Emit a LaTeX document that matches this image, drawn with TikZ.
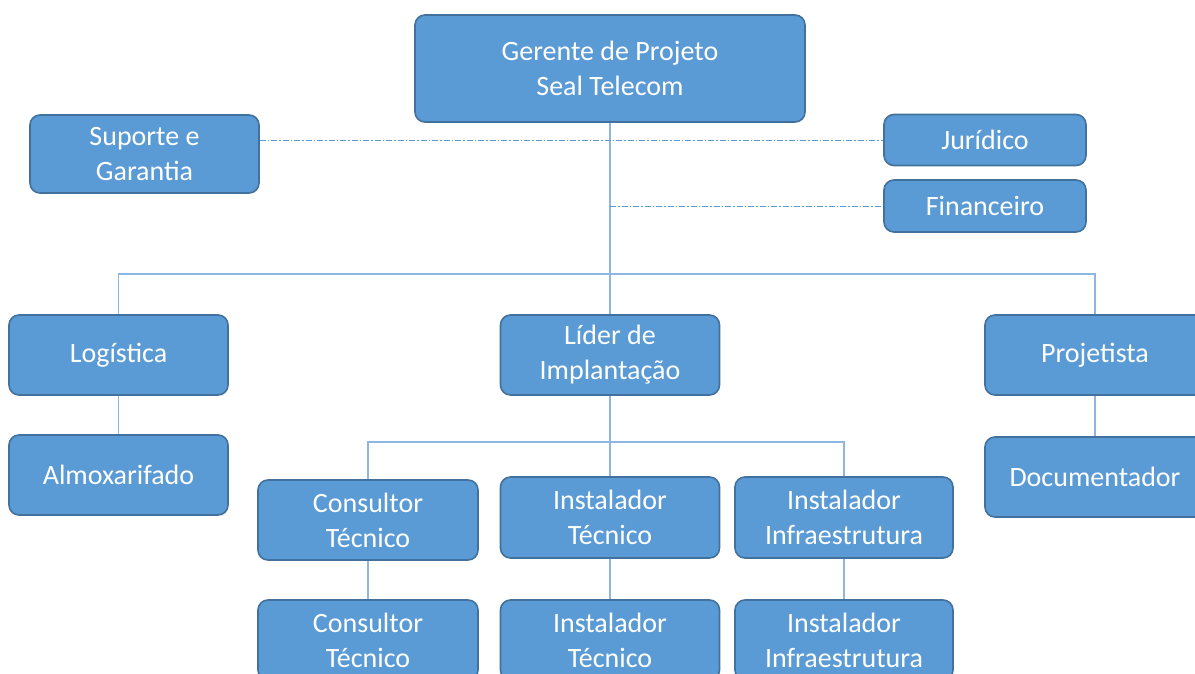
\documentclass[tikz,border=0pt]{standalone}
\usepackage{fontspec}
\setmainfont{Carlito}
\usetikzlibrary{backgrounds}
\definecolor{boxfill}{HTML}{5B9BD5}
\definecolor{boxline}{HTML}{41719C}
\definecolor{connc}{HTML}{8DB6E0}
\definecolor{dotc}{HTML}{5B9BD5}
\tikzset{
  box/.style={draw=boxline, fill=boxfill, line width=1.6pt, rounded corners=10pt,
    text=white, align=center, inner sep=0pt,
    font=\fontsize{28}{35}\selectfont},
  connline/.style={draw=connc, line width=1.3pt},
  dotline/.style={draw=dotc, line width=0.9pt, dash pattern=on 6pt off 2pt on 1.5pt off 2pt}
}
\begin{document}
\begin{tikzpicture}[x=1pt,y=-1pt]
\useasboundingbox (0,0) rectangle (1195,674);
\clip (0,0) rectangle (1195,674);
% top
\node[box, minimum width=390pt, minimum height=107pt] (ger) at (610,68.5) {Gerente de Projeto\\Seal Telecom};
\node[box, minimum width=229pt, minimum height=78pt] (sup) at (144.5,154) {Suporte e\\Garantia};
\node[box, minimum width=202pt, minimum height=51pt] (jur) at (985,140) {Jurídico};
\node[box, minimum width=202pt, minimum height=52pt] (fin) at (985,206) {Financeiro};
% level 1
\node[box, minimum width=219pt, minimum height=80pt] (log) at (118.5,355) {Logística};
\node[box, minimum width=219pt, minimum height=80pt] (alm) at (118.5,475) {Almoxarifado};
\node[box, minimum width=219pt, minimum height=80pt] (lid) at (610,355) {Líder de\\Implantação};
\node[box, minimum width=220pt, minimum height=80pt] (proj) at (1095,355) {Projetista};
\node[box, minimum width=220pt, minimum height=80pt] (doc) at (1095,477) {Documentador};
% level 2
\node[box, minimum width=220pt, minimum height=80pt] (ct) at (368,520) {Consultor\\Técnico};
\node[box, minimum width=219pt, minimum height=81pt] (it) at (610,517.5) {Instalador\\Técnico};
\node[box, minimum width=218pt, minimum height=81pt] (ii) at (844,517.5) {Instalador\\Infraestrutura};
% level 3
\node[box, minimum width=220pt, minimum height=80pt] (ct2) at (368,640) {Consultor\\Técnico};
\node[box, minimum width=219pt, minimum height=80pt] (it2) at (610,640) {Instalador\\Técnico};
\node[box, minimum width=218pt, minimum height=80pt] (ii2) at (844,640) {Instalador\\Infraestrutura};
\coordinate (bus1) at (610,274);
\coordinate (bus2) at (610,442);
\begin{scope}[on background layer]
  \draw[connline] (ger.south) -- (lid.north);
  \draw[connline] (log.north) |- (bus1) -| (proj.north);
  \draw[connline] (log.south) -- (alm.north);
  \draw[connline] (proj.south) -- (doc.north);
  \draw[connline] (lid.south) -- (it.north);
  \draw[connline] (ct.north) |- (bus2) -| (ii.north);
  \draw[connline] (ct.south) -- (ct2.north);
  \draw[connline] (it.south) -- (it2.north);
  \draw[connline] (ii.south) -- (ii2.north);
  \draw[dotline] (sup.east |- jur.west) -- (jur.west);
  \draw[dotline] (ger.south |- fin.west) -- (fin.west);
\end{scope}
\end{tikzpicture}
\end{document}
